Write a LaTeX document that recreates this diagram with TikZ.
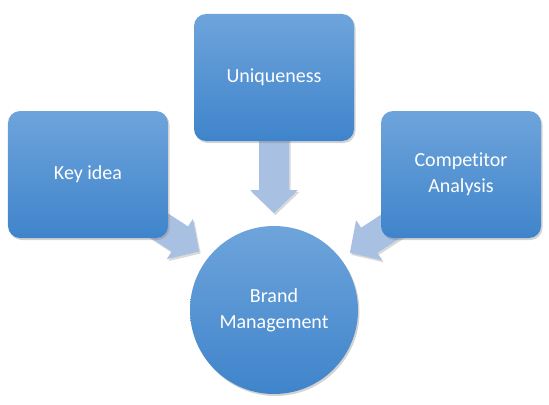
\documentclass[tikz,border=0pt]{standalone}
\usepackage{fontspec}
\setmainfont{Carlito}[Ligatures=NoCommon]
\usetikzlibrary{calc,positioning,shadows}
\definecolor{cajaalta}{HTML}{6EA4DB}
\definecolor{cajabaja}{HTML}{3F84CB}
\definecolor{flecha}{HTML}{A8C0E2}

\tikzset{
  caja/.style={rectangle,rounded corners=12bp,minimum width=160bp,minimum height=127bp,
    top color=cajaalta,bottom color=cajabaja,draw=none,text=white,
    font=\fontsize{20bp}{26bp}\selectfont,align=center,
    drop shadow={opacity=0.35,shadow xshift=1.5bp,shadow yshift=-2bp}},
  disco/.style={circle,minimum size=168bp,inner sep=0pt,
    top color=cajaalta,bottom color=cajabaja,draw=none,text=white,
    font=\fontsize{20bp}{26bp}\selectfont,align=center,
    drop shadow={opacity=0.35,shadow xshift=1.5bp,shadow yshift=-2bp}},
  bloque/.style={fill=flecha,draw=none,
    drop shadow={opacity=0.3,shadow xshift=1.5bp,shadow yshift=-2bp}}
}
% flecha gruesa: punta, angulo, largo
\newcommand{\flechagruesa}[3]{%
  \begin{scope}[shift={(#1)},rotate=#2]
    \path[bloque] (0,0) -- (-23,24) -- (-23,15) -- (-#3,15)
      -- (-#3,-15) -- (-23,-15) -- (-23,-24) -- cycle;
  \end{scope}}

\begin{document}
\begin{tikzpicture}[x=1bp,y=1bp]
    \useasboundingbox (0,0) rectangle (549,404);
    % --- centro ---
    \coordinate (C) at (274,94);
    \coordinate (tipL) at ($(C)+(142:95)$);
    \coordinate (tipU) at ($(C)+(90:97)$);
    \coordinate (tipR) at ($(C)+(37:95)$);
    % --- flechas (debajo de las cajas) ---
    \flechagruesa{tipL}{-33}{80}
    \flechagruesa{tipU}{-90}{75}
    \flechagruesa{tipR}{213}{80}
    % --- cajas ---
    \node[caja] (key) at (88,229.5) {Key idea};
    \node[caja] (uniq) at (274,326.5) {Uniqueness};
    \node[caja] (comp) at (461,229.5) {Competitor\\Analysis};
    % --- circulo ---
    \node[disco] (brand) at (C) {Brand\\Management};
\end{tikzpicture}
\end{document}
